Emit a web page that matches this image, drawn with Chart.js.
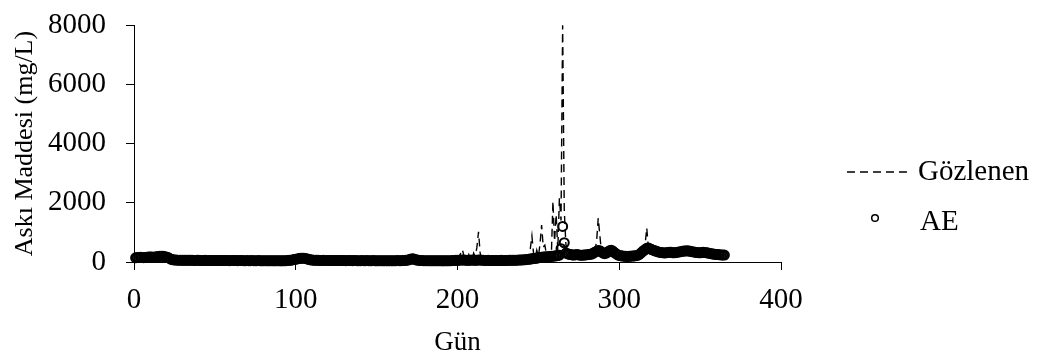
<!DOCTYPE html>
<html>
<head>
<meta charset="utf-8">
<script src="https://cdn.jsdelivr.net/npm/chart.js@4"></script>
<style>
  body { margin: 0; background: #fff; }
  #wrap { width: 1047px; height: 361px; }
</style>
</head>
<body>
<div id="wrap"><canvas id="myChart" width="1047" height="361"></canvas></div>
<script>
'use strict';

// gun (day) 1..365
let days = Array.from({ length: 365 }, (_, i) => i + 1);

let gozlenen = [
  130,145,150,170,140,150,145,165,160,175,160,155,175,185,180,195,200,185,175,165,145,110,
  85,70,72,60,62,60,55,62,53,60,
  54,57,58,60,52,54,53,59,51,52,
  50,57,51,52,46,54,52,52,46,52,
  50,52,45,51,49,50,44,52,50,51,
  45,47,46,52,45,47,44,50,42,48,
  46,47,41,48,45,46,40,47,44,45,
  40,46,43,44,38,45,42,43,38,44,
  42,48,48,57,58,72,83,98,
  110,112,130,128,132,118,108,88,78,62,
  62,56,57,54,56,50,57,51,52,50,
  52,46,53,51,52,46,49,48,51,45,
  48,46,52,45,47,45,51,44,46,44,
  50,43,46,45,48,41,47,45,46,40,
  46,44,45,40,47,42,43,41,47,40,
  46,44,50,43,45,45,52,53,65,72,
  100,115,98,82,62,57,48,50,44,47,
  42,48,41,44,43,46,39,45,43,44,
  38,44,42,43,41,47,46,52,53,120,
  180,300,420,200,90,70,250,130,80,300,
  180,500,1020,300,120,70,55,54,53,55,
  48,54,52,53,47,54,53,55,48,54,
  52,58,56,57,55,62,60,67,66,72,
  73,82,83,95,450,880,300,150,400,180,
  600,1250,500,570,250,300,220,180,2050,700,
  1600,400,2150,1400,7990,1750,600,400,300,260,
  230,240,250,260,235,225,230,240,235,250,
  245,265,275,310,400,700,1480,900,350,300,
  285,310,350,390,500,380,330,290,230,225,
  205,205,190,195,180,195,190,205,200,215,
  215,245,275,335,375,600,1150,500,440,425,
  395,385,355,345,325,325,305,310,305,325,
  325,330,310,315,315,335,335,355,355,375,
  370,385,365,365,345,345,325,325,310,315,
  315,335,315,315,295,295,275,275,255,260,
  245,250,235,240,230
];

// AE model values
let ae = [
  140,150,155,160,150,145,150,160,165,170,165,160,170,180,185,190,195,190,180,170,150,120,
  90,75,70,65,60,62,58,60,55,58,
  56,55,60,58,54,52,55,57,53,50,
  52,55,53,50,48,52,54,50,48,50,
  52,50,47,49,51,48,46,50,52,49,
  47,45,48,50,47,45,46,48,44,46,
  48,45,43,46,47,44,42,45,46,43,
  42,44,45,42,40,43,44,41,40,42,
  44,46,50,55,60,70,85,95,
  105,115,125,130,128,120,105,90,75,65,
  60,58,55,56,54,52,55,53,50,52,
  50,48,51,53,50,48,47,50,49,47,
  46,48,50,47,45,47,49,46,44,46,
  48,45,44,47,46,43,45,47,44,42,
  44,46,43,42,45,44,41,43,45,42,
  44,46,48,45,43,47,50,55,62,75,
  95,110,100,80,65,55,50,48,46,45,
  44,46,43,42,45,44,41,43,45,42,
  40,42,44,41,43,45,48,50,55,58,
  62,66,70,65,60,58,56,60,64,62,
  58,60,66,70,62,56,54,52,55,53,
  50,52,54,51,49,52,55,53,50,52,
  54,56,58,55,57,60,62,65,68,70,
  75,80,85,92,100,110,118,125,130,140,
  150,160,165,170,175,180,185,190,195,200,
  210,220,230,450,1200,650,300,280,260,250,
  240,235,245,250,240,230,225,235,240,245,
  250,260,270,300,330,360,390,380,340,300,
  280,300,340,380,400,370,320,280,240,220,
  210,200,195,190,185,190,195,200,205,210,
  220,240,280,330,380,420,460,470,450,420,
  400,380,360,340,330,320,310,305,310,320,
  330,325,315,310,320,330,340,350,360,370,
  375,380,370,360,350,340,330,320,315,310,
  320,330,320,310,300,290,280,270,260,255,
  250,245,240,238,235
];

let xTicks = [0, 100, 200, 300, 400];
let yTicks = [0, 2000, 4000, 6000, 8000];

let serif = '"Liberation Serif", "Times New Roman", serif';
Chart.defaults.font.family = serif;
Chart.defaults.color = '#000';

function toPoints(ys) {
  let pts = [];
  for (let i = 0; i < days.length; i++) {
    pts.push({ x: days[i], y: ys[i] });
  }
  return pts;
}

// legend drawn by hand so it sits where the original one is
const legendPlugin = {
  id: 'sideLegend',
  afterDraw(chart) {
    let ctx = chart.ctx;
    ctx.save();
    ctx.strokeStyle = '#000';
    ctx.lineWidth = 1.3;
    ctx.setLineDash([8, 5]);
    ctx.beginPath();
    ctx.moveTo(847, 172);
    ctx.lineTo(908, 172);
    ctx.stroke();
    ctx.setLineDash([]);
    ctx.lineWidth = 1.5;
    ctx.beginPath();
    ctx.arc(875, 218, 3.3, 0, Math.PI * 2);
    ctx.stroke();
    ctx.fillStyle = '#000';
    ctx.font = '29px ' + serif;
    ctx.textBaseline = 'middle';
    ctx.textAlign = 'left';
    ctx.fillText('Gözlenen', 918, 172);
    ctx.fillText('AE', 920, 222);
    ctx.restore();
  }
};

const config = {
  type: 'line',
  data: {
    datasets: [
      {
        label: 'Gözlenen',
        data: toPoints(gozlenen),
        borderColor: '#000',
        borderWidth: 1.4,
        borderDash: [8, 5],
        pointRadius: 0,
        tension: 0,
        fill: false,
        clip: false,
        order: 2
      },
      {
        label: 'AE',
        data: toPoints(ae),
        showLine: false,
        pointStyle: 'circle',
        pointRadius: 4.5,
        pointBorderWidth: 2,
        pointBorderColor: '#000',
        pointBackgroundColor: 'rgba(0,0,0,0)',
        clip: false,
        order: 1
      }
    ]
  },
  options: {
    responsive: false,
    animation: false,
    layout: { padding: { left: 4, right: 266, top: 25, bottom: 0 } },
    plugins: {
      legend: { display: false },
      tooltip: { enabled: false }
    },
    scales: {
      x: {
        type: 'linear',
        min: 0,
        max: 400,
        afterBuildTicks: (scale) => { scale.ticks = xTicks.map(v => ({ value: v })); },
        afterFit: (scale) => { scale.height = 99; },
        ticks: { font: { size: 29 }, padding: 13, maxRotation: 0, callback: (v) => String(v) },
        grid: { drawOnChartArea: false, tickLength: 8, color: '#000' },
        border: { color: '#000', width: 1 },
        title: { display: true, text: 'Gün', font: { size: 27 }, padding: { top: 0, bottom: 2 } }
      },
      y: {
        min: 0,
        max: 8000,
        afterBuildTicks: (scale) => { scale.ticks = yTicks.map(v => ({ value: v })); },
        afterFit: (scale) => {
          scale.width = 130;
          // tick padding would otherwise push the plot top down
          scale.paddingTop = 0;
          scale.paddingBottom = 0;
        },
        ticks: { font: { size: 29 }, padding: 20, callback: (v) => String(v) },
        grid: { drawOnChartArea: false, tickLength: 8, color: '#000' },
        border: { color: '#000', width: 1 },
        title: { display: true, text: 'Askı Maddesi (mg/L)', font: { size: 26 }, padding: { top: 6, bottom: 0 } }
      }
    }
  },
  plugins: [legendPlugin]
};

const myChart = new Chart(document.getElementById('myChart'), config);
</script>
</body>
</html>
